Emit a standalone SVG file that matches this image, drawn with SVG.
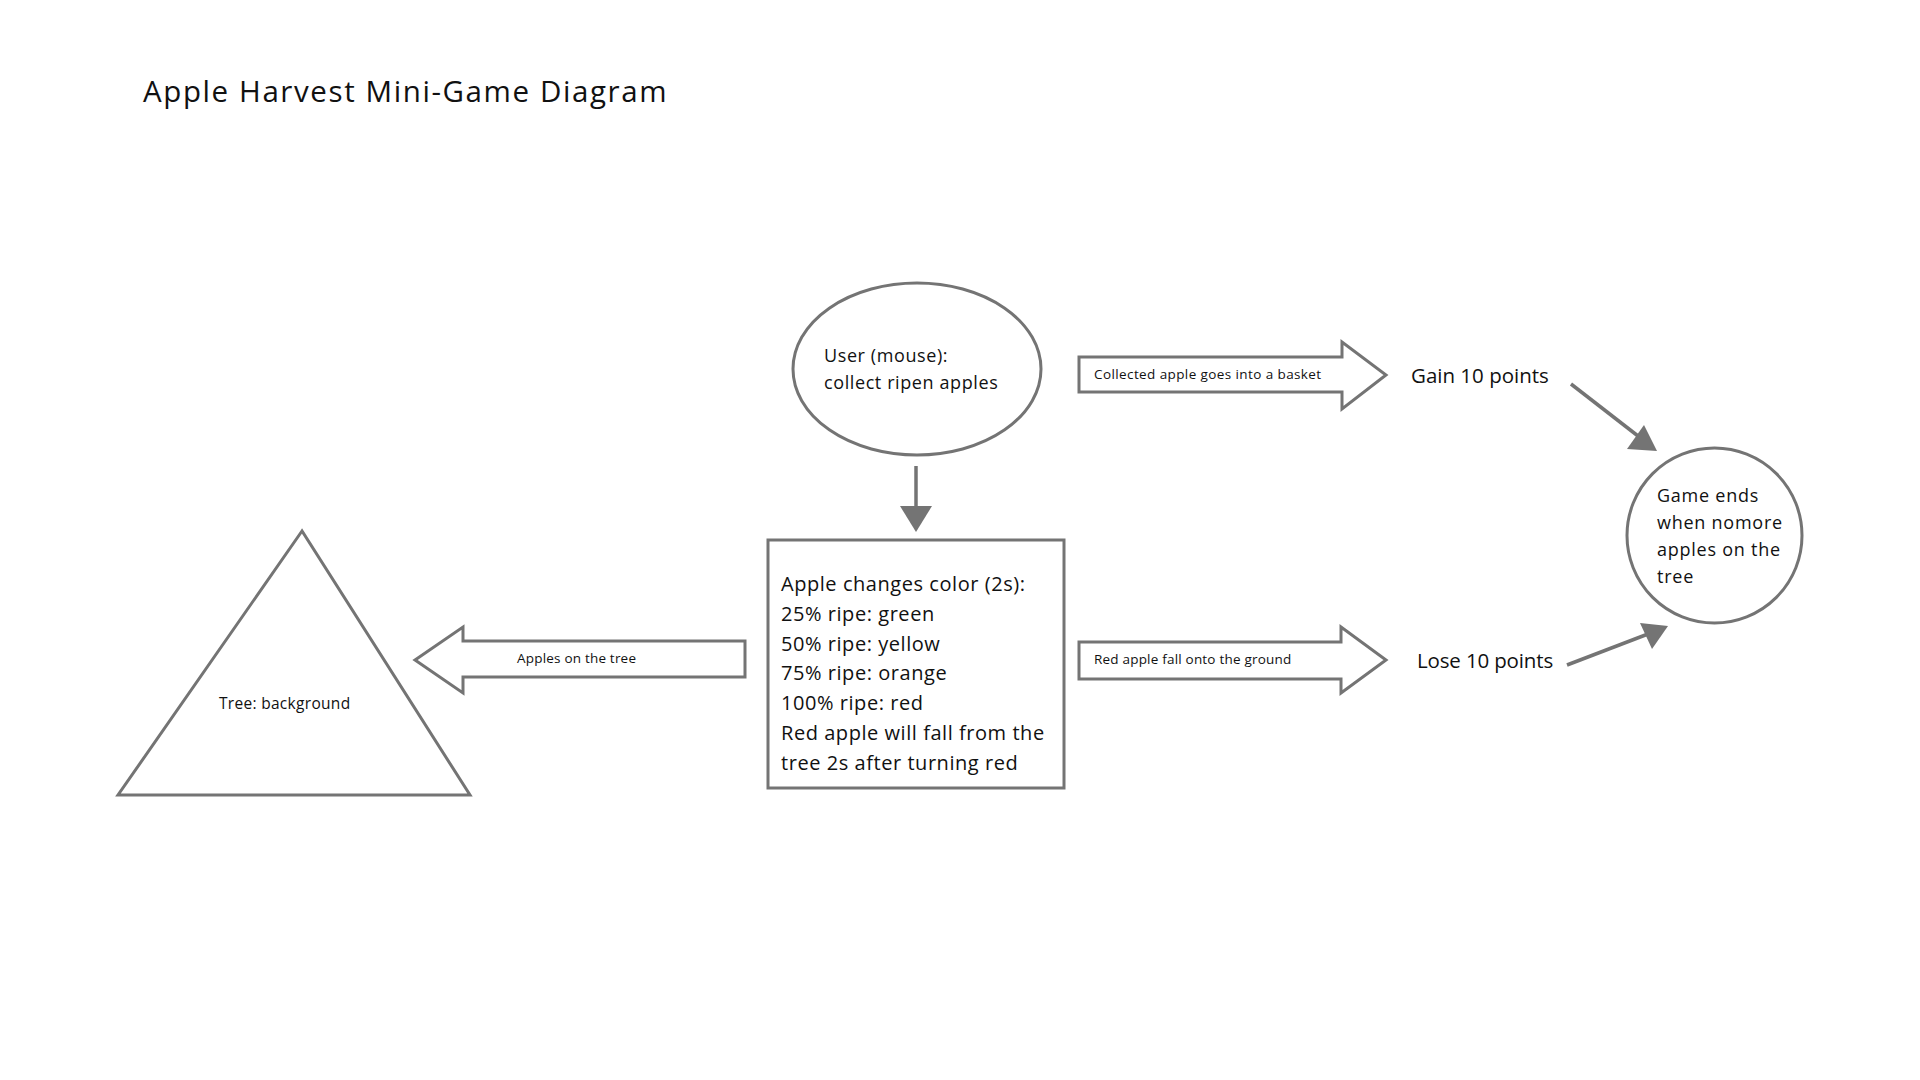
<svg xmlns="http://www.w3.org/2000/svg" width="1920" height="1080" viewBox="0 0 1920 1080">
<defs>
<style>
.t{font-family:"Open Sans","Noto Sans","Liberation Sans",sans-serif;fill:#111;}
.shape{fill:#fff;stroke:#747474;stroke-width:3;}
.line{stroke:#747474;stroke-width:3.5;fill:none;}
.head{fill:#747474;stroke:none;}
</style>
</defs>
<rect width="1920" height="1080" fill="#fff"/>
<text class="t" x="143" y="102" font-size="29.5" letter-spacing="1.6">Apple Harvest Mini-Game Diagram</text>

<g id="user">
<ellipse class="shape" cx="917" cy="369" rx="124" ry="86"/>
<text class="t" x="824" y="362" font-size="18" letter-spacing="0.6">User (mouse):</text>
<text class="t" x="824" y="389" font-size="18" letter-spacing="0.6">collect ripen apples</text>
</g>

<g id="apple-color">
<rect class="shape" x="768" y="540" width="296" height="248"/>
<text class="t" font-size="20" letter-spacing="0.55">
<tspan x="781" y="591">Apple changes color (2s):</tspan>
<tspan x="781" y="621">25% ripe: green</tspan>
<tspan x="781" y="651">50% ripe: yellow</tspan>
<tspan x="781" y="680">75% ripe: orange</tspan>
<tspan x="781" y="710">100% ripe: red</tspan>
<tspan x="781" y="740">Red apple will fall from the</tspan>
<tspan x="781" y="770">tree 2s after turning red</tspan>
</text>
</g>

<g id="tree">
<polygon class="shape" points="302,531 118,795 470,795"/>
<text class="t" x="219" y="709" font-size="15.5" letter-spacing="0.3">Tree: background</text>
</g>

<g id="collected">
<polygon class="shape" points="1079,357 1342,357 1342,342 1386,375 1342,409 1342,392 1079,392"/>
<text class="t" x="1094" y="379" font-size="13.5" letter-spacing="0.4">Collected apple goes into a basket</text>
</g>

<g id="fall">
<polygon class="shape" points="1079,642 1341,642 1341,627 1386,660 1341,693 1341,679 1079,679"/>
<text class="t" x="1094" y="664" font-size="13.5" letter-spacing="0.2">Red apple fall onto the ground</text>
</g>

<g id="apples-on-tree">
<polygon class="shape" points="745,641 463,641 463,627 415,660 463,693 463,677 745,677"/>
<text class="t" x="517" y="663" font-size="13.5" letter-spacing="0.2">Apples on the tree</text>
</g>

<g id="gain">
<text class="t" x="1411" y="383" font-size="20.5">Gain 10 points</text>
</g>

<g id="lose">
<text class="t" x="1417" y="668" font-size="20.5" letter-spacing="-0.15">Lose 10 points</text>
</g>

<g id="game-ends">
<circle class="shape" cx="1714.5" cy="535.5" r="87.5"/>
<text class="t" font-size="18" letter-spacing="0.75">
<tspan x="1657" y="502">Game ends</tspan>
<tspan x="1657" y="529">when nomore</tspan>
<tspan x="1657" y="556">apples on the</tspan>
<tspan x="1657" y="583">tree</tspan>
</text>
</g>

<g id="connectors">
<line class="line" x1="916" y1="466" x2="916" y2="508"/>
<polygon class="head" points="900,506 932,506 916,532"/>
<line class="line" x1="1571" y1="384" x2="1638" y2="436"/>
<polygon class="head" points="1627,449 1644,425 1657,451"/>
<line class="line" x1="1567" y1="665" x2="1648" y2="634"/>
<polygon class="head" points="1640,623 1652,649 1668,626"/>
</g>
</svg>
